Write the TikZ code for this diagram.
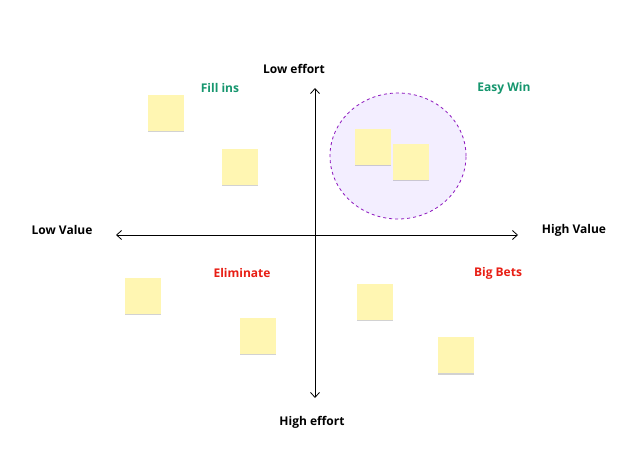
\documentclass[tikz,border=0pt]{standalone}
\usepackage{fontspec}
\setmainfont{Open Sans}
\usetikzlibrary{arrows.meta,shapes.geometric,shadows}
\definecolor{notey}{RGB}{255,246,178}
\definecolor{lav}{RGB}{243,238,255}
\definecolor{dpurp}{RGB}{140,20,190}
\definecolor{grn}{RGB}{22,150,110}
\definecolor{rd}{RGB}{232,30,20}
\begin{document}
\begin{tikzpicture}[x=1pt,y=-1pt,
  note/.style={fill=notey, minimum size=36pt, inner sep=0pt, draw=none,
    drop shadow={shadow xshift=0pt,shadow yshift=-1.5pt,opacity=0.35}},
  lbl/.style={font=\fontsize{12}{14}\selectfont\bfseries},
  ax/.style={-{Straight Barb[length=5pt,width=9pt]}, line width=0.8pt}]
\useasboundingbox (0,0) rectangle (640,462);
\fill[white] (0,0) rectangle (640,462);
\node[draw=dpurp, dashed, fill=lav, ellipse, minimum width=136pt, minimum height=126pt, line width=0.8pt] (c) at (398,156) {};
\node[note] (n1) at (373,147) {};
\node[note] (n2) at (411,162) {};
\node[note] (n3) at (166,113) {};
\node[note] (n4) at (240,167) {};
\node[note] (n5) at (143,296) {};
\node[note] (n6) at (258,336) {};
\node[note] (n7) at (375,302) {};
\node[note] (n8) at (456,355) {};
\coordinate (l) at (116,235); \coordinate (r) at (518,235);
\coordinate (t) at (315,88); \coordinate (b) at (315,398);
\coordinate (m) at (315,235);
\draw[ax] (m) -- (l); \draw[ax] (m) -- (r);
\draw[ax] (m) -- (t); \draw[ax] (m) -- (b);
\node[lbl] (le) at (294,69) {Low effort};
\node[lbl] (he) at (312,422) {High effort};
\node[lbl] (lv) at (62,230) {Low Value};
\node[lbl] (hv) at (574,230) {High Value};
\node[lbl,text=grn] (fi) at (220,88) {Fill ins};
\node[lbl,text=grn] (ew) at (504,88) {Easy Win};
\node[lbl,text=rd] (el) at (242,273) {Eliminate};
\node[lbl,text=rd] (bb) at (498,273) {Big Bets};
\end{tikzpicture}
\end{document}
